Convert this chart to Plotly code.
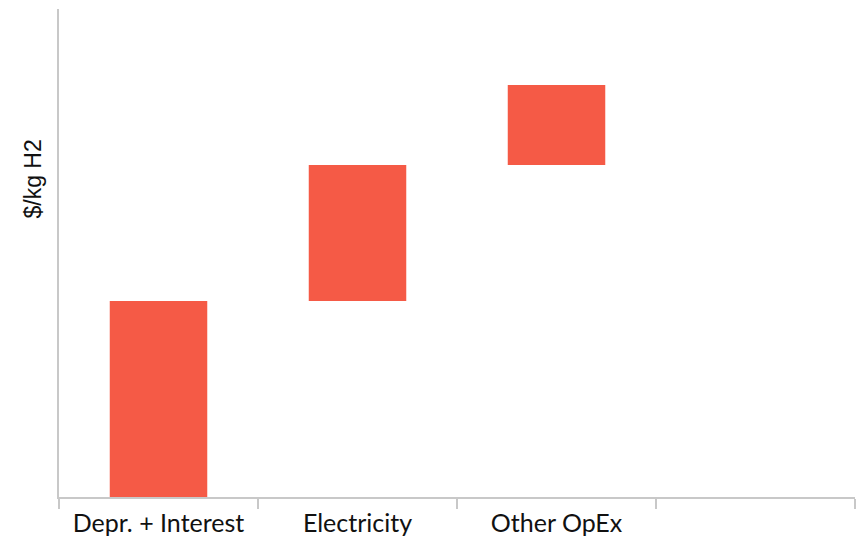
import plotly.graph_objects as go

# Cost build-up components ($/kg H2)
categories = ["Depr. + Interest", "Electricity", "Other OpEx", " "]
components = ["Depr. + Interest", "Electricity", "Other OpEx"]
values = [1.96, 1.36, 0.80]
y_max = 4.88

# Each floating bar starts where the previous one ends
bases = []
running = 0.0
for v in values:
    bases.append(running)
    running += v

bar_color = "#F55A46"
axis_color = "#C8C8C8"

fig = go.Figure(
    go.Bar(
        x=components,
        y=values,
        base=bases,
        width=0.49,
        marker=dict(color=bar_color, line=dict(width=0)),
        hoverinfo="x+y",
    )
)

fig.update_layout(
    width=856,
    height=540,
    margin=dict(l=59, r=1, t=9, b=43),
    paper_bgcolor="white",
    plot_bgcolor="white",
    showlegend=False,
    font=dict(family="Lato", color="#111111"),
)

fig.update_xaxes(
    type="category",
    categoryorder="array",
    categoryarray=categories,
    range=[-0.5, 3.5],
    tickson="boundaries",
    ticks="outside",
    ticklen=10,
    tickcolor=axis_color,
    tickwidth=1.5,
    showline=True,
    linecolor=axis_color,
    linewidth=1.5,
    showgrid=False,
    ticklabelstandoff=3,
    tickfont=dict(family="Lato", size=25, color="#111111"),
)

fig.update_yaxes(
    range=[0, y_max],
    showline=True,
    linecolor=axis_color,
    linewidth=1.5,
    showgrid=False,
    zeroline=False,
    showticklabels=False,
    ticks="",
)

fig.add_annotation(
    text="$/kg H2",
    xref="paper",
    yref="paper",
    x=-0.033,
    y=0.652,
    textangle=-90,
    showarrow=False,
    font=dict(family="Liberation Sans", size=23, color="#111111"),
    xanchor="center",
    yanchor="middle",
)

fig.write_html("out.html")
